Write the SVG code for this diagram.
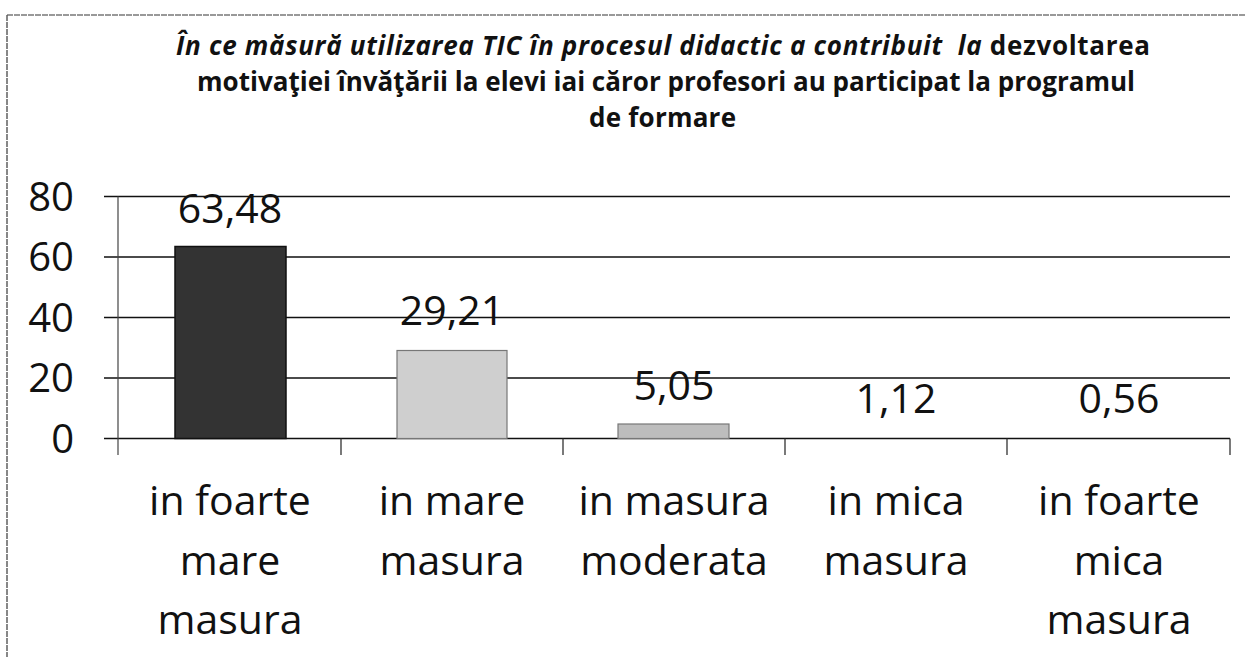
<svg xmlns="http://www.w3.org/2000/svg" width="1246" height="657" viewBox="0 0 1246 657">
<style>
.title{font-family:"Open Sans","Liberation Sans",sans-serif;font-weight:bold;font-size:26px;fill:#111}
.it{font-style:italic}
.axis{font-family:"Open Sans","Liberation Sans",sans-serif;font-size:40px;fill:#111;text-anchor:end}
.val{font-family:"Open Sans","Liberation Sans",sans-serif;font-size:41px;fill:#111;text-anchor:middle}
.cat{font-family:"Open Sans","Liberation Sans",sans-serif;font-size:41px;fill:#111;text-anchor:middle}
.grid{stroke:#111;stroke-width:1.6;fill:none}
.vax{stroke:#444;stroke-width:1.2;fill:none}
.tick{stroke:#333;stroke-width:1.3;fill:none}
.frame{stroke:#555;stroke-width:1.4;fill:none;stroke-dasharray:6 1}
</style>
<rect x="0" y="0" width="1246" height="657" fill="#fff"/>
<g id="frame">
<path class="frame" d="M7,15 V657"/>
<path class="frame" d="M7,15 H1246" stroke-opacity="0.8"/>
</g>
<g id="title">
<text class="title" x="176" y="55" textLength="974" lengthAdjust="spacing" xml:space="preserve"><tspan class="it">În ce măsură utilizarea TIC în procesul didactic a contribuit  la</tspan> dezvoltarea</text>
<text class="title" x="197" y="91" textLength="938" lengthAdjust="spacing">motivaţiei învăţării la elevi iai căror profesori au participat la programul</text>
<text class="title" x="589" y="127" textLength="147" lengthAdjust="spacing">de formare</text>
</g>
<g id="gridlines">
<path class="grid" d="M104,196.5 H1230 M104,257 H1230 M104,317.5 H1230 M104,378 H1230 M104,438.5 H1230"/>
</g>
<g id="y-axis">
<path class="vax" d="M118,196.5 V455"/>
<text class="axis" x="74" y="211">80</text>
<text class="axis" x="74" y="271">60</text>
<text class="axis" x="74" y="332">40</text>
<text class="axis" x="74" y="392">20</text>
<text class="axis" x="74" y="453">0</text>
</g>
<g id="x-axis">
<path class="tick" d="M341,438.5 V455 M563,438.5 V455 M785,438.5 V455 M1007,438.5 V455 M1230,438.5 V455"/>
</g>
<g id="bar1">
<rect x="175" y="246.5" width="111" height="192" fill="#333" stroke="#111" stroke-width="1.5"/>
<text class="val" x="230" y="223">63,48</text>
<text class="cat" x="230" y="515">in foarte</text>
<text class="cat" x="230" y="575">mare</text>
<text class="cat" x="230" y="634">masura</text>
</g>
<g id="bar2">
<rect x="397" y="350.5" width="110" height="88" fill="#cfcfcf" stroke="#777" stroke-width="1.2"/>
<text class="val" x="452" y="325">29,21</text>
<text class="cat" x="452" y="515">in mare</text>
<text class="cat" x="452" y="575">masura</text>
</g>
<g id="bar3">
<rect x="618" y="424" width="111" height="14.5" fill="#bdbdbd" stroke="#777" stroke-width="1.2"/>
<text class="val" x="674" y="400">5,05</text>
<text class="cat" x="674" y="515">in masura</text>
<text class="cat" x="674" y="575">moderata</text>
</g>
<g id="bar4">
<text class="val" x="896" y="413">1,12</text>
<text class="cat" x="896" y="515">in mica</text>
<text class="cat" x="896" y="575">masura</text>
</g>
<g id="bar5">
<text class="val" x="1119" y="413">0,56</text>
<text class="cat" x="1119" y="515">in foarte</text>
<text class="cat" x="1119" y="575">mica</text>
<text class="cat" x="1119" y="634">masura</text>
</g>
</svg>
